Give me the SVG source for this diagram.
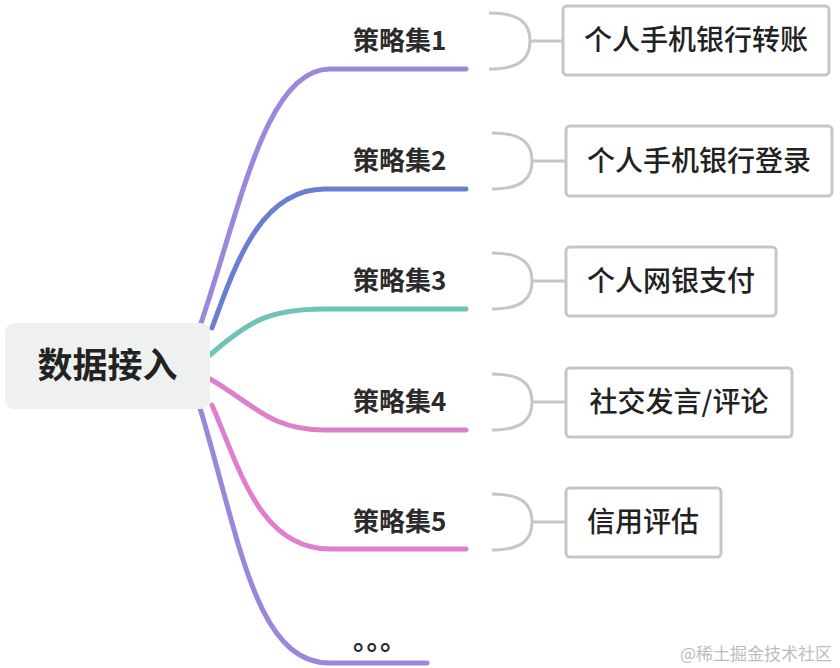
<svg xmlns="http://www.w3.org/2000/svg" width="840" height="668" viewBox="0 0 840 668">
<style>
.br{fill:none;stroke-width:5;stroke-linecap:round}
.bk{fill:none;stroke:#c6c6c6;stroke-width:3}
.box{fill:#fff;stroke:#c6c6c6;stroke-width:3}
.lbl{font-family:"Noto Sans CJK SC","Liberation Sans",sans-serif;font-weight:bold;font-size:26px;fill:#2b2b2b}
.txt{font-family:"Noto Sans CJK SC","Liberation Sans",sans-serif;font-weight:500;font-size:28px;fill:#222;text-anchor:middle}
</style>
<rect width="840" height="668" fill="#fff"/>
<g id="connectors">
<path class="br" stroke="#9d87dc" d="M200,326 C240,210 265,69 330,69 L466,69"/>
<path class="br" stroke="#6b7fd2" d="M212,328 C235,265 260,189 325,189 L466,189"/>
<path class="br" stroke="#6ec4b8" d="M210,355 C250,320 270,309 325,309 L466,309"/>
<path class="br" stroke="#dd80c9" d="M210,379 C255,405 270,430 325,430 L466,430"/>
<path class="br" stroke="#e07fcf" d="M212,405 C240,470 260,549 330,549 L466,549"/>
<path class="br" stroke="#9b86db" d="M200,408 C240,540 255,663 330,663 L427,663"/>
<path class="bk" d="M489,13 C522,13 530,25 530,41 C530,57 522,69 489,69 M530,41 L563,41"/>
<path class="bk" d="M492,133 C524,133 532,145 532,161 C532,177 524,189 492,189 M532,161 L566,161"/>
<path class="bk" d="M492,253 C524,253 532,265 532,281 C532,297 524,309 492,309 M532,281 L566,281"/>
<path class="bk" d="M492,374 C524,374 532,386 532,402 C532,418 524,430 492,430 M532,402 L566,402"/>
<path class="bk" d="M492,494 C524,494 532,506 532,522 C532,538 524,550 492,550 M532,522 L566,522"/>
</g>
<g id="root">
<rect x="5" y="323" width="205" height="86" rx="9" fill="#eff0f0"/>
<text x="107.5" y="378" font-family="Noto Sans CJK SC,Liberation Sans,sans-serif" font-weight="bold" font-size="35" fill="#222" text-anchor="middle">数据接入</text>
</g>
<g id="s1"><text class="lbl" x="353" y="50">策略集1</text></g>
<g id="s2"><text class="lbl" x="353" y="170">策略集2</text></g>
<g id="s3"><text class="lbl" x="353" y="290">策略集3</text></g>
<g id="s4"><text class="lbl" x="353" y="411">策略集4</text></g>
<g id="s5"><text class="lbl" x="353" y="531">策略集5</text></g>
<g id="s6"><text x="353" y="650" font-family="Noto Sans CJK SC,sans-serif" font-weight="bold" font-size="27" fill="#2b2b2b">。。。</text></g>
<g id="n1"><rect class="box" x="563" y="6" width="266" height="69" rx="4"/><text class="txt" x="696" y="50">个人手机银行转账</text></g>
<g id="n2"><rect class="box" x="566" y="126" width="266" height="70" rx="4"/><text class="txt" x="699" y="171">个人手机银行登录</text></g>
<g id="n3"><rect class="box" x="566" y="247" width="210" height="69" rx="4"/><text class="txt" x="671" y="291">个人网银支付</text></g>
<g id="n4"><rect class="box" x="566" y="368" width="226" height="69" rx="4"/><text class="txt" x="679" y="412">社交发言/评论</text></g>
<g id="n5"><rect class="box" x="566" y="488" width="155" height="69" rx="4"/><text class="txt" x="643" y="532">信用评估</text></g>
<text x="832" y="660" font-family="Noto Sans CJK SC,sans-serif" font-size="17" fill="#bdbdbd" text-anchor="end">@稀土掘金技术社区</text>
</svg>
